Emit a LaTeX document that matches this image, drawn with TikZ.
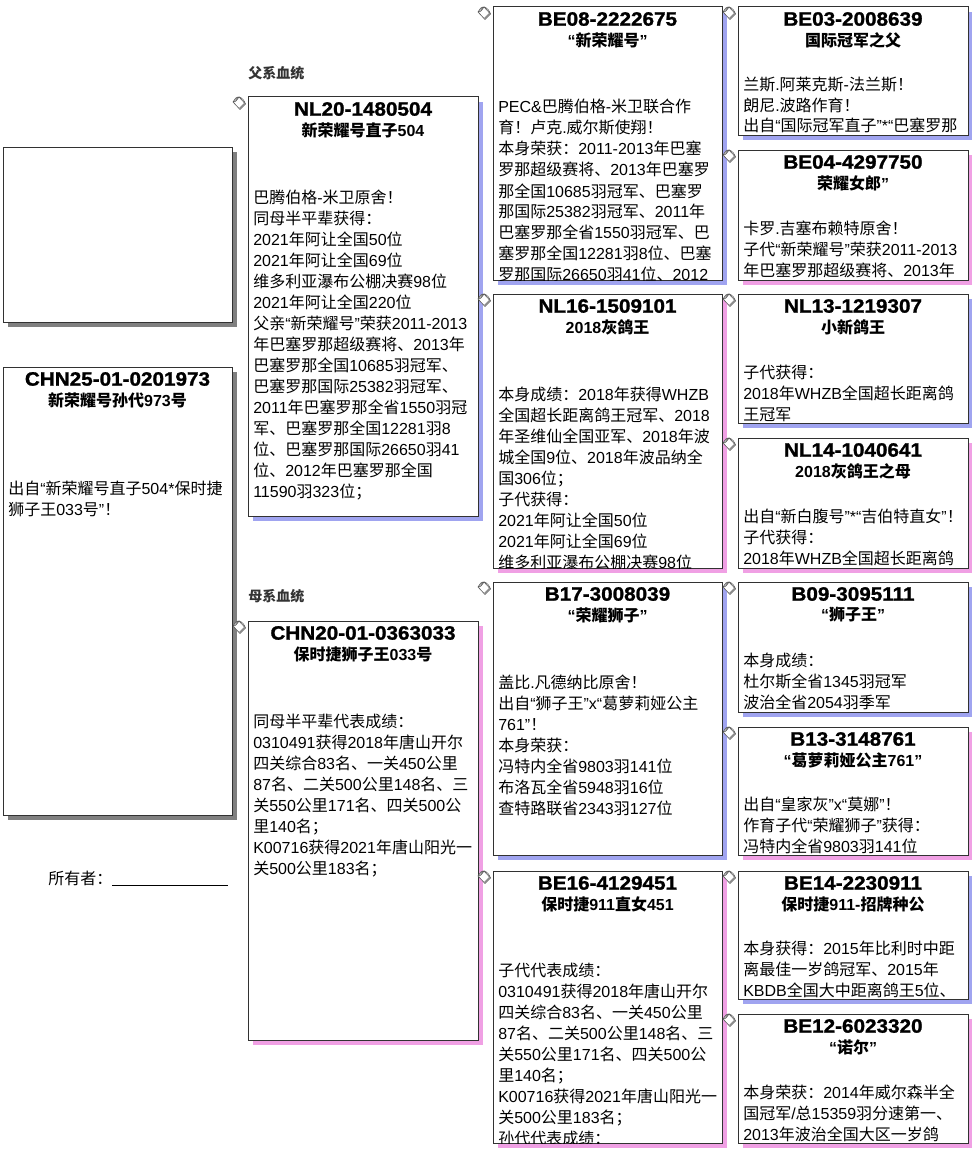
\documentclass[tikz,border=0pt]{standalone}
\usepackage{fontspec}
\setmainfont{Liberation Sans}
\newfontfamily\cjkfam{Noto Sans CJK SC}
\newfontface\idface{Liberation Sans Bold}[FakeBold=1.3,FakeStretch=1.07]
\usetikzlibrary{shadows}
\definecolor{shblue}{RGB}{160,164,240}
\definecolor{shpink}{RGB}{240,160,228}
\definecolor{shgray}{RGB}{128,128,128}
\definecolor{bordercol}{RGB}{50,50,50}
% CJK characters switch to the CJK family automatically
\ifdefined\newXeTeXintercharclass
  \newXeTeXintercharclass\CJKcls
\else
  \chardef\CJKcls=10
\fi
\newcount\cjkc
\def\setcjkrange#1#2{\cjkc=#1\relax
  \loop \XeTeXcharclass\cjkc=\CJKcls \ifnum\cjkc<#2\relax \advance\cjkc by 1 \repeat}
\setcjkrange{"4E00}{"9FFF}
\setcjkrange{"3000}{"303F}
\setcjkrange{"FF00}{"FFEF}
\XeTeXinterchartoks 0 \CJKcls = {\cjkfam}
\XeTeXinterchartoks 4095 \CJKcls = {\cjkfam}
\XeTeXinterchartoks \CJKcls 0 = {\rmfamily}
\XeTeXinterchartoks \CJKcls 4095 = {\rmfamily}

\tikzset{
  pboxst/.style={rectangle, draw=bordercol, fill=white, line width=0.75pt, inner sep=0pt, outer sep=0pt},
  idst/.style={font=\fontsize{14.5pt}{16pt}\selectfont\idface, inner sep=0pt},
  subst/.style={font=\fontsize{12pt}{14pt}\selectfont\bfseries, inner sep=0pt},
  bodyst/.style={font=\fontsize{12pt}{15.75pt}\selectfont, inner sep=0pt, anchor=base west},
  lblst/.style={font=\fontsize{10.5pt}{12pt}\selectfont\bfseries, text=black!80, inner sep=0pt, anchor=west},
  ownerst/.style={font=\fontsize{12pt}{14pt}\selectfont, inner sep=0pt, anchor=west},
}

% #1 name, #2 x, #3 y, #4 w, #5 h, #6 shadow colour, #7 id, #8 subtitle
\newcommand\pbox[8]{%
  \node[pboxst, drop shadow={shadow xshift=3.75pt, shadow yshift=-3.75pt, fill=#6, opacity=1},
        minimum width=#4*0.75pt, minimum height=#5*0.75pt, anchor=north west] (#1) at (#2,#3) {};
  \node[idst] (#1-id) at ([yshift=-9pt]#1.north) {#7};
  \node[subst] (#1-sub) at ([yshift=-24.75pt]#1.north) {#8};
}
% #1 name, #2 x, #3 baseline y, #4 text
\newcommand\pbody[4]{%
  \begin{scope}
    \clip (#1.north west) rectangle (#1.south east);
    \node[bodyst] (#1-body) at (#2,#3) {\begin{minipage}[t]{175pt}\raggedright #4\end{minipage}};
  \end{scope}
}
% paint bucket icon, top-left at #1,#2
\newcommand\bucket[2]{%
  \begin{scope}[shift={(#1,#2)}]
    \draw[fill=white, draw=black!65, line width=0.45pt] (1,6) -- (7,1) -- (13.5,8) -- (8,13.5) -- cycle;
    \fill[black!45] (8,13.5) -- (13.5,8) -- (12,7) -- (7,12) -- cycle;
    \draw[fill=black!25, draw=black!65, line width=0.4pt] (1,6) .. controls (2,3) and (5,0.5) .. (7,1) .. controls (6,3.5) and (3,6.5) .. (1,6);
    \draw[black!65, line width=0.4pt] (4,3.5) .. controls (6,-1) and (11,1) .. (13.5,8);
  \end{scope}
}

\begin{document}
\begin{tikzpicture}[x=0.75pt, y=-0.75pt]
\XeTeXinterchartokenstate=1
\useasboundingbox[fill=white] (0,0) rectangle (971,1149);

% ---------- column 1 ----------
\node[pboxst, drop shadow={shadow xshift=3.75pt, shadow yshift=-3.75pt, fill=shgray, opacity=1},
      minimum width=229*0.75pt, minimum height=175*0.75pt, anchor=north west] (photo) at (3,147) {};
\pbox{subj}{3}{367}{229}{448}{shgray}{CHN25-01-0201973}{新荣耀号孙代973号}
\pbody{subj}{8}{494}{出自“新荣耀号直子504*保时捷\\狮子王033号”！}

\node[ownerst] (owner) at (48,878) {所有者：};
\coordinate (ulA) at (112,885);
\coordinate (ulB) at (228,885);
\draw[black, line width=0.75pt] (ulA) -- (ulB);

% ---------- labels ----------
\node[lblst] (patlbl) at (248,73) {父系血统};
\node[lblst] (matlbl) at (248,596) {母系血统};

% ---------- column 2 ----------
\pbox{nl20}{248}{97}{230}{419}{shblue}{NL20-1480504}{新荣耀号直子504}
\pbody{nl20}{253}{203}{巴腾伯格-米卫原舍！\\同母半平辈获得：\\2021年阿让全国50位\\2021年阿让全国69位\\维多利亚瀑布公棚决赛98位\\2021年阿让全国220位\\父亲“新荣耀号”荣获2011-2013\\年巴塞罗那超级赛将、2013年\\巴塞罗那全国10685羽冠军、\\巴塞罗那国际25382羽冠军、\\2011年巴塞罗那全省1550羽冠\\军、巴塞罗那全国12281羽8\\位、巴塞罗那国际26650羽41\\位、2012年巴塞罗那全国\\11590羽323位；}

\pbox{chn20}{248}{621}{230}{419}{shpink}{CHN20-01-0363033}{保时捷狮子王033号}
\pbody{chn20}{253}{727}{同母半平辈代表成绩：\\0310491获得2018年唐山开尔\\四关综合83名、一关450公里\\87名、二关500公里148名、三\\关550公里171名、四关500公\\里140名；\\K00716获得2021年唐山阳光一\\关500公里183名；}

% ---------- column 3 ----------
\pbox{be08}{493}{7}{229}{273}{shblue}{BE08-2222675}{“新荣耀号”}
\pbody{be08}{498}{113}{PEC\&巴腾伯格-米卫联合作\\育！卢克.威尔斯使翔！\\本身荣获：2011-2013年巴塞\\罗那超级赛将、2013年巴塞罗\\那全国10685羽冠军、巴塞罗\\那国际25382羽冠军、2011年\\巴塞罗那全省1550羽冠军、巴\\塞罗那全国12281羽8位、巴塞\\罗那国际26650羽41位、2012}

\pbox{nl16}{493}{294}{229}{274}{shpink}{NL16-1509101}{2018灰鸽王}
\pbody{nl16}{498}{400}{本身成绩：2018年获得WHZB\\全国超长距离鸽王冠军、2018\\年圣维仙全国亚军、2018年波\\城全国9位、2018年波品纳全\\国306位；\\子代获得：\\2021年阿让全国50位\\2021年阿让全国69位\\维多利亚瀑布公棚决赛98位}

\pbox{b17}{493}{582}{229}{273}{shblue}{B17-3008039}{“荣耀狮子”}
\pbody{b17}{498}{688}{盖比.凡德纳比原舍！\\出自“狮子王”x“葛萝莉娅公主\\761”！\\本身荣获：\\冯特内全省9803羽141位\\布洛瓦全省5948羽16位\\查特路联省2343羽127位}

\pbox{be16}{493}{871}{229}{272}{shpink}{BE16-4129451}{保时捷911直女451}
\pbody{be16}{498}{976}{子代代表成绩：\\0310491获得2018年唐山开尔\\四关综合83名、一关450公里\\87名、二关500公里148名、三\\关550公里171名、四关500公\\里140名；\\K00716获得2021年唐山阳光一\\关500公里183名；\\孙代代表成绩：}

% ---------- column 4 ----------
\pbox{be03}{738}{7}{230}{128}{shblue}{BE03-2008639}{国际冠军之父}
\pbody{be03}{743}{90}{兰斯.阿莱克斯-法兰斯！\\朗尼.波路作育！\\出自“国际冠军直子”*“巴塞罗那}

\pbox{be04}{738}{150}{230}{130}{shpink}{BE04-4297750}{荣耀女郎”}
\pbody{be04}{743}{234}{卡罗.吉塞布赖特原舍！\\子代“新荣耀号”荣获2011-2013\\年巴塞罗那超级赛将、2013年}

\pbox{nl13}{738}{294}{230}{129}{shblue}{NL13-1219307}{小新鸽王}
\pbody{nl13}{743}{378}{子代获得：\\2018年WHZB全国超长距离鸽\\王冠军}

\pbox{nl14}{738}{438}{230}{130}{shpink}{NL14-1040641}{2018灰鸽王之母}
\pbody{nl14}{743}{522}{出自“新白腹号”*“吉伯特直女”！\\子代获得：\\2018年WHZB全国超长距离鸽}

\pbox{b09}{738}{582}{230}{130}{shblue}{B09-3095111}{“狮子王”}
\pbody{b09}{743}{666}{本身成绩：\\杜尔斯全省1345羽冠军\\波治全省2054羽季军}

\pbox{b13}{738}{727}{230}{128}{shpink}{B13-3148761}{“葛萝莉娅公主761”}
\pbody{b13}{743}{810}{出自“皇家灰”x“莫娜”！\\作育子代“荣耀狮子”获得：\\冯特内全省9803羽141位}

\pbox{be14}{738}{871}{230}{128}{shblue}{BE14-2230911}{保时捷911-招牌种公}
\pbody{be14}{743}{954}{本身获得：2015年比利时中距\\离最佳一岁鸽冠军、2015年\\KBDB全国大中距离鸽王5位、}

\pbox{be12}{738}{1014}{230}{129}{shpink}{BE12-6023320}{“诺尔”}
\pbody{be12}{743}{1098}{本身荣获：2014年威尔森半全\\国冠军/总15359羽分速第一、\\2013年波治全国大区一岁鸽}

% ---------- bucket icons ----------
\bucket{232}{96}
\bucket{232}{620}
\bucket{477}{6}
\bucket{477}{293}
\bucket{477}{581}
\bucket{477}{870}
\bucket{722}{6}
\bucket{722}{149}
\bucket{722}{293}
\bucket{722}{437}
\bucket{722}{581}
\bucket{722}{726}
\bucket{722}{870}
\bucket{722}{1013}
\end{tikzpicture}
\end{document}
